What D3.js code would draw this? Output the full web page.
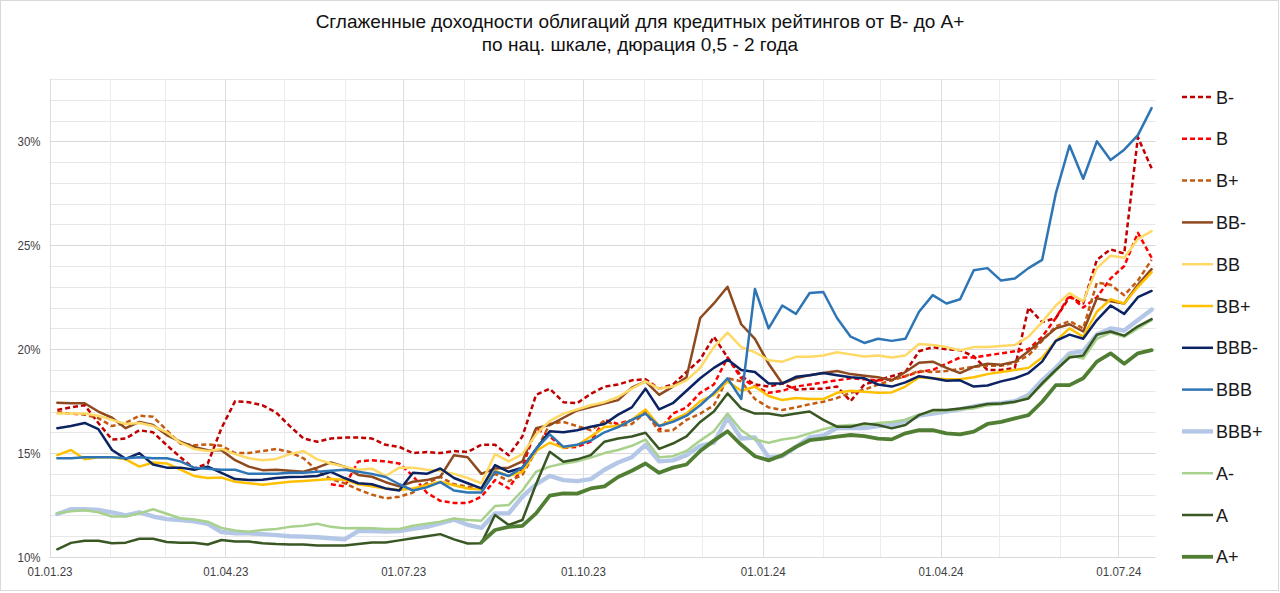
<!DOCTYPE html>
<html>
<head>
<meta charset="utf-8">
<script src="https://cdn.jsdelivr.net/npm/d3@7"></script>
<style>
  html, body { margin: 0; padding: 0; background: #ffffff; }
  text { font-family: "Liberation Sans", Arial, sans-serif; }
</style>
</head>
<body>
<script>
// ---------------- DATA ----------------
const titleLines = [
  "Сглаженные доходности облигаций для кредитных рейтингов от B- до A+",
  "по нац. шкале, дюрация 0,5 - 2 года"
];

const dates = [
  "2023-01-05","2023-01-12","2023-01-19","2023-01-26","2023-02-02","2023-02-09","2023-02-16","2023-02-23",
  "2023-03-02","2023-03-09","2023-03-16","2023-03-23","2023-03-30","2023-04-06","2023-04-13","2023-04-20",
  "2023-04-27","2023-05-04","2023-05-11","2023-05-18","2023-05-25","2023-06-01","2023-06-08","2023-06-15",
  "2023-06-22","2023-06-29","2023-07-06","2023-07-13","2023-07-20","2023-07-27","2023-08-03","2023-08-10",
  "2023-08-17","2023-08-24","2023-08-31","2023-09-07","2023-09-14","2023-09-21","2023-09-28","2023-10-05",
  "2023-10-12","2023-10-19","2023-10-26","2023-11-02","2023-11-09","2023-11-16","2023-11-23","2023-11-30",
  "2023-12-07","2023-12-14","2023-12-21","2023-12-28","2024-01-04","2024-01-11","2024-01-18","2024-01-25",
  "2024-02-01","2024-02-08","2024-02-15","2024-02-22","2024-02-29","2024-03-07","2024-03-14","2024-03-21",
  "2024-03-28","2024-04-04","2024-04-11","2024-04-18","2024-04-25","2024-05-02","2024-05-09","2024-05-16",
  "2024-05-23","2024-05-30","2024-06-06","2024-06-13","2024-06-20","2024-06-27","2024-07-04","2024-07-11",
  "2024-07-18"
];

const seriesNames = ["B-","B","B+","BB-","BB","BB+","BBB-","BBB","BBB+","A-","A","A+"];

const valsBminus = [17.07,17.2,17.3,16.45,15.65,15.7,16.1,16.0,15.38,14.8,
  14.26,14.5,16.2,17.5,17.45,17.3,16.95,16.3,15.7,15.55,
  15.7,15.75,15.75,15.7,15.4,15.3,15.0,15.05,15.0,15.1,
  15.05,15.4,15.4,14.9,15.8,17.8,18.1,17.45,17.4,17.85,
  18.2,18.3,18.5,18.55,18.1,18.3,18.9,19.5,20.6,19.6,
  18.7,18.3,18.2,18.35,18.05,18.1,18.1,18.2,17.5,18.3,
  18.5,18.7,18.9,19.9,20.1,20.0,19.95,19.65,19.0,19.0,
  19.1,22.0,21.3,21.5,22.5,22.2,24.3,24.8,24.6,30.2,28.7];

const valsB = [null,null,null,null,null,null,null,null,null,null,
  null,null,null,null,null,null,null,null,null,null,
  13.5,13.4,14.6,14.65,14.6,14.5,13.9,13.1,12.7,12.6,
  12.6,12.9,13.7,13.3,14.3,16.2,15.8,15.25,15.3,15.55,
  16.6,16.4,16.6,17.0,16.1,16.9,17.2,17.9,18.3,19.6,
  18.6,18.2,17.9,18.0,18.2,18.3,18.4,18.5,18.6,18.55,
  18.5,18.55,18.7,18.9,19.0,19.3,19.6,19.6,19.7,19.8,
  19.9,20.0,20.6,21.5,22.6,22.0,22.5,23.4,24.0,25.6,24.4];

const valsBplus = [16.98,16.9,16.85,16.68,16.3,16.45,16.8,16.75,16.1,15.45,
  15.38,15.42,15.35,15.0,15.0,15.1,15.2,15.05,14.75,14.15,
  13.75,13.55,13.25,13.0,12.82,12.9,13.1,13.55,13.85,13.5,
  13.38,13.3,14.0,13.65,13.95,15.1,16.4,16.5,16.3,16.1,
  16.55,16.3,16.4,16.95,16.05,16.1,16.6,16.9,17.3,18.6,
  18.45,17.6,17.2,17.07,17.2,17.35,17.47,17.65,17.9,18.05,
  18.3,18.5,18.7,18.95,18.9,18.95,19.05,19.15,19.2,19.2,
  19.35,19.7,20.4,21.1,21.35,21.0,23.2,23.1,22.6,23.3,24.3];

const valsBBminus = [17.42,17.4,17.4,17.0,16.7,16.2,16.5,16.35,15.87,15.55,
  15.3,15.14,15.14,14.66,14.35,14.18,14.2,14.15,14.1,14.3,
  14.55,14.35,13.95,13.86,13.6,13.4,13.62,13.7,13.86,14.9,
  14.8,14.0,14.26,14.3,14.6,16.2,16.35,16.7,17.05,17.22,
  17.38,17.55,18.15,18.45,17.8,18.2,18.65,21.5,22.2,23.0,
  21.2,20.5,19.3,18.35,18.6,18.75,18.85,18.95,18.8,18.72,
  18.65,18.5,18.9,19.35,19.4,19.1,18.85,19.15,19.3,19.25,
  19.4,19.9,20.45,21.0,21.2,20.85,22.45,22.3,22.2,23.1,23.85];

const valsBB = [16.9,16.9,16.9,16.8,16.6,16.4,16.45,16.3,16.0,15.5,
  15.2,15.1,15.2,14.95,14.75,14.66,14.72,14.95,15.1,14.7,
  14.5,14.35,14.2,14.25,13.9,14.3,14.3,14.2,14.15,14.0,
  13.8,13.55,14.95,14.6,14.95,15.9,16.55,16.9,17.1,17.3,
  17.45,17.7,18.1,18.45,18.1,18.2,18.5,19.1,20.1,20.8,
  20.1,19.85,19.47,19.4,19.63,19.63,19.7,19.85,19.75,19.65,
  19.7,19.6,19.7,20.25,20.2,20.1,19.95,20.1,20.1,20.15,
  20.2,20.6,21.3,22.1,22.7,22.3,23.9,24.5,24.4,25.3,25.68];

const valsBBplus = [14.9,15.15,14.7,14.8,14.8,14.7,14.35,14.55,14.5,14.2,
  13.9,13.8,13.82,13.62,13.55,13.48,13.55,13.62,13.66,13.7,
  13.75,13.72,13.5,13.4,13.3,13.22,13.3,13.45,13.62,13.45,
  13.3,13.25,14.15,13.9,14.1,15.1,15.5,15.25,15.38,15.8,
  16.25,16.3,16.6,17.1,16.3,16.6,16.9,17.5,17.8,18.45,
  18.0,18.2,17.75,17.55,17.65,17.6,17.6,17.9,18.0,17.95,
  17.9,17.92,18.2,18.65,18.6,18.55,18.55,18.65,18.8,18.9,
  19.0,19.1,19.6,20.4,21.0,20.6,21.8,22.4,22.2,23.0,23.7];

const valsBBBminus = [16.2,16.3,16.45,16.15,15.15,14.72,15.0,14.45,14.3,14.3,
  14.2,14.35,14.05,13.75,13.7,13.72,13.8,13.85,13.86,13.9,
  14.1,13.8,13.55,13.5,13.3,13.2,14.05,14.0,14.26,13.8,
  13.55,13.3,14.42,14.1,14.3,15.2,16.05,16.0,16.1,16.27,
  16.4,16.85,17.2,18.1,17.1,17.4,18.0,18.6,19.1,19.5,
  19.0,18.9,18.35,18.35,18.67,18.75,18.85,18.75,18.65,18.6,
  18.3,18.2,18.4,18.7,18.6,18.48,18.5,18.2,18.25,18.45,
  18.6,18.85,19.4,20.4,20.7,20.5,21.4,22.1,21.7,22.5,22.8];

const valsBBB = [14.75,14.75,14.8,14.8,14.8,14.75,14.8,14.75,14.75,14.6,
  14.3,14.25,14.2,14.2,14.0,14.0,14.0,14.05,14.05,14.1,
  14.15,14.2,14.1,14.0,13.85,13.5,13.2,13.35,13.6,13.2,
  13.1,13.1,14.1,13.9,14.3,15.2,15.9,15.3,15.4,15.6,
  16.0,16.25,16.6,16.9,16.3,16.5,16.8,17.3,17.9,18.6,
  17.6,22.9,21.0,22.1,21.7,22.7,22.75,21.5,20.6,20.3,
  20.5,20.4,20.5,21.8,22.6,22.2,22.4,23.8,23.9,23.3,
  23.4,23.9,24.3,27.5,29.8,28.2,30.0,29.1,29.6,30.3,31.6];

const valsBBBplus = [12.07,12.3,12.3,12.26,12.15,12.0,12.15,11.95,11.82,11.78,
  11.72,11.6,11.2,11.14,11.14,11.1,11.05,11.0,10.98,10.95,
  10.9,10.85,11.25,11.25,11.22,11.25,11.35,11.45,11.62,11.8,
  11.55,11.4,12.1,12.1,12.9,13.5,13.9,13.7,13.65,13.75,
  14.2,14.55,14.8,15.4,14.6,14.65,14.9,15.35,15.5,16.7,
  15.7,15.75,14.8,14.85,15.3,15.75,15.85,16.2,16.2,16.2,
  16.3,16.35,16.55,16.8,16.9,17.0,17.1,17.25,17.35,17.4,
  17.5,17.8,18.5,19.1,19.8,19.9,20.7,21.0,20.9,21.4,21.9];

const valsAminus = [12.1,12.2,12.25,12.15,11.95,11.95,12.1,12.3,12.08,11.86,
  11.8,11.7,11.4,11.28,11.22,11.3,11.35,11.45,11.5,11.6,
  11.45,11.38,11.4,11.38,11.35,11.35,11.5,11.6,11.7,11.85,
  11.78,11.75,12.45,12.5,13.2,14.1,14.35,14.5,14.6,14.78,
  15.0,15.15,15.35,15.65,14.8,14.85,15.1,15.6,16.05,16.9,
  16.1,15.65,15.5,15.65,15.75,15.95,16.15,16.3,16.35,16.35,
  16.45,16.5,16.6,16.85,17.0,17.05,17.1,17.15,17.3,17.35,
  17.45,17.7,18.3,18.95,19.7,19.55,20.5,20.8,20.6,21.0,21.4];

const valsA = [10.37,10.68,10.78,10.78,10.66,10.69,10.88,10.88,10.72,10.69,
  10.69,10.6,10.82,10.75,10.75,10.66,10.62,10.6,10.6,10.55,
  10.55,10.55,10.62,10.7,10.7,10.8,10.9,11.0,11.1,10.85,
  10.65,10.66,12.02,11.54,11.78,13.5,15.06,14.58,14.7,14.9,
  15.55,15.7,15.8,15.98,15.2,15.46,15.8,16.5,17.0,17.87,
  17.15,16.9,16.9,16.8,16.9,17.0,16.6,16.27,16.27,16.43,
  16.35,16.19,16.35,16.83,17.07,17.07,17.15,17.23,17.36,17.39,
  17.47,17.63,18.35,19.0,19.6,19.7,20.7,20.85,20.65,21.1,21.45];

const valsAplus = [null,null,null,null,null,null,null,null,null,null,
  null,null,null,null,null,null,null,null,null,null,
  null,null,null,null,null,null,null,null,null,null,
  null,10.7,11.3,11.45,11.5,12.1,12.95,13.06,13.05,13.3,
  13.4,13.85,14.15,14.5,14.05,14.3,14.45,15.1,15.6,16.05,
  15.4,14.85,14.65,14.9,15.3,15.62,15.7,15.79,15.87,15.82,
  15.7,15.66,15.95,16.1,16.1,15.95,15.9,16.03,16.4,16.5,
  16.67,16.83,17.47,18.27,18.27,18.6,19.4,19.8,19.3,19.8,19.95];

const yTickValues = [10, 15, 20, 25, 30];
const yTickLabels = ["10%", "15%", "20%", "25%", "30%"];
const xTickDates = ["2023-01-01","2023-04-01","2023-07-01","2023-10-01","2024-01-01","2024-04-01","2024-07-01"];
const xTickLabels = ["01.01.23","01.04.23","01.07.23","01.10.23","01.01.24","01.04.24","01.07.24"];

// ---------------- STYLES (not data) ----------------
const seriesStyles = [
  {color: "#C00000", width: 2.5, dash: "5,3"},
  {color: "#FF0000", width: 2.5, dash: "5,3"},
  {color: "#C55A11", width: 2.5, dash: "5,3"},
  {color: "#8E4A1E", width: 2.5, dash: null},
  {color: "#FFD966", width: 2.5, dash: null},
  {color: "#FFC000", width: 2.5, dash: null},
  {color: "#0B2263", width: 2.5, dash: null},
  {color: "#2E75B6", width: 2.5, dash: null},
  {color: "#B4C7E7", width: 4.4, dash: null},
  {color: "#A9D18E", width: 2.5, dash: null},
  {color: "#385723", width: 2.5, dash: null},
  {color: "#507E32", width: 3.8, dash: null}
];
const seriesValues = [valsBminus, valsB, valsBplus, valsBBminus, valsBB, valsBBplus,
  valsBBBminus, valsBBB, valsBBBplus, valsAminus, valsA, valsAplus];

// ---------------- CHART ----------------
const W = 1280, H = 593;
const parse = d3.utcParse("%Y-%m-%d");
const dateObjs = dates.map(parse);

const x = d3.scaleUtc()
  .domain([parse("2023-01-01"), parse("2024-07-20")])
  .range([49.5, 1155.5]);
const y = d3.scaleLinear().domain([10, 33]).range([557, 79]);

const svg = d3.select("body").append("svg")
  .attr("width", W).attr("height", H)
  .style("display", "block");

svg.append("rect").attr("x", 0).attr("y", 0).attr("width", W).attr("height", H).attr("fill", "#fff");
svg.append("rect").attr("x", 0.5).attr("y", 0.5).attr("width", W - 2).attr("height", H - 3)
  .attr("fill", "none").attr("stroke", "#d9d9d9").attr("stroke-width", 1);

// grid
const grid = svg.append("g");
const hTicks = d3.range(10, 34, 1);
grid.selectAll("line.h").data(hTicks).join("line")
  .attr("x1", x.range()[0]).attr("x2", x.range()[1])
  .attr("y1", d => Math.round(y(d)) + 0.5).attr("y2", d => Math.round(y(d)) + 0.5)
  .attr("stroke", d => d % 5 === 0 ? "#d9d9d9" : "#e7e7e7").attr("stroke-width", 1);

const months = d3.utcMonth.range(parse("2023-01-01"), parse("2024-07-20"));
grid.selectAll("line.v").data(months).join("line")
  .attr("x1", d => Math.round(x(d)) + 0.5).attr("x2", d => Math.round(x(d)) + 0.5)
  .attr("y1", y(33)).attr("y2", y(10))
  .attr("stroke", d => (d.getUTCMonth() % 3 === 0) ? "#dedede" : "#ececec").attr("stroke-width", 1);

// axes labels
const yAxis = d3.axisLeft(y).tickValues(yTickValues).tickFormat((d, i) => yTickLabels[i]).tickSize(0).tickPadding(9);
const gy = svg.append("g").attr("transform", `translate(${x.range()[0]},0)`).call(yAxis);
gy.select(".domain").remove();
gy.selectAll("text").attr("font-size", 13).attr("fill", "#404040")
  .attr("font-family", "Liberation Sans, Arial, sans-serif")
  .attr("textLength", 23).attr("lengthAdjust", "spacingAndGlyphs");

const xAxis = d3.axisBottom(x).tickValues(xTickDates.map(parse)).tickFormat((d, i) => xTickLabels[i]).tickSize(0).tickPadding(10);
const gx = svg.append("g").attr("transform", `translate(0,${y(10)})`).call(xAxis);
gx.select(".domain").remove();
gx.selectAll("text").attr("font-size", 13).attr("fill", "#404040")
  .attr("font-family", "Liberation Sans, Arial, sans-serif")
  .attr("textLength", 45).attr("lengthAdjust", "spacingAndGlyphs");

// lines
const line = d3.line()
  .defined(d => d.v != null)
  .x(d => x(d.t))
  .y(d => y(d.v))
  .curve(d3.curveLinear);

const plot = svg.append("g");
seriesNames.forEach((name, k) => {
  const st = seriesStyles[k];
  const pts = dateObjs.map((t, i) => ({t, v: seriesValues[k][i]}));
  plot.append("path")
    .datum(pts)
    .attr("d", line)
    .attr("fill", "none")
    .attr("stroke", st.color)
    .attr("stroke-width", st.width)
    .attr("stroke-linejoin", "round")
    .attr("stroke-linecap", st.dash ? "butt" : "round")
    .attr("stroke-dasharray", st.dash);
});

// title
const title = svg.append("g");
titleLines.forEach((t, i) => {
  title.append("text")
    .attr("x", 640).attr("y", 28 + i * 23)
    .attr("text-anchor", "middle")
    .attr("font-size", 19)
    .attr("fill", "#111")
    .text(t);
});

// legend
const legend = svg.append("g");
seriesNames.forEach((name, k) => {
  const st = seriesStyles[k];
  const cy = 97 + k * 41.8;
  legend.append("line")
    .attr("x1", 1182).attr("x2", 1213)
    .attr("y1", cy).attr("y2", cy)
    .attr("stroke", st.color).attr("stroke-width", st.width)
    .attr("stroke-dasharray", st.dash);
  legend.append("text")
    .attr("x", 1216).attr("y", cy + 6.5)
    .attr("font-size", 18).attr("fill", "#1a1a1a")
    .text(name);
});
</script>
</body>
</html>
